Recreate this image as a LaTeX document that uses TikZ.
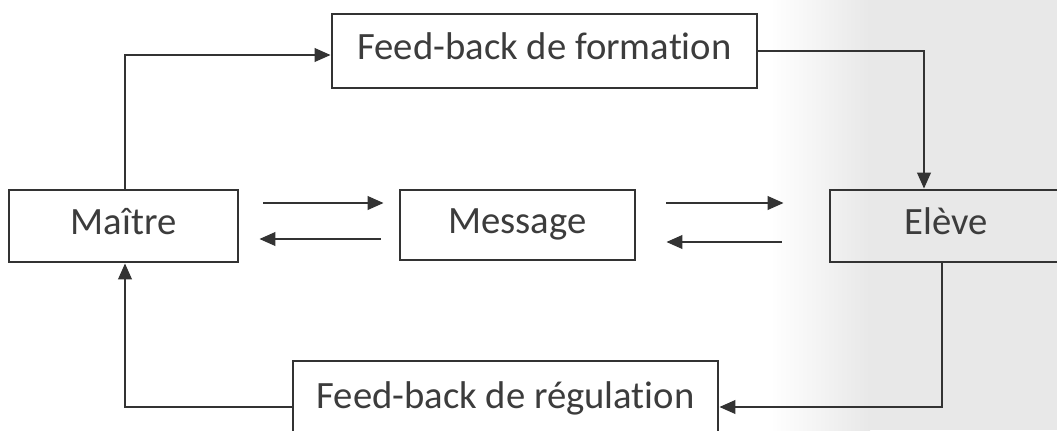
\documentclass[tikz,border=0pt]{standalone}
\usepackage{fontspec}
\setmainfont{Carlito}[Ligatures={NoCommon}]
\usetikzlibrary{arrows.meta,calc}
\definecolor{ink}{HTML}{333333}
\definecolor{txt}{HTML}{3C3C3C}
\definecolor{scan}{HTML}{E8E8E8}
\begin{document}
\begin{tikzpicture}[x=0.75pt,y=-0.75pt,
  box/.style={draw=ink, line width=2pt, fill=none, text=txt, inner sep=0pt,
    text height=20pt, text depth=7pt,
    font=\fontsize{29}{34}\selectfont},
  conn/.style={draw=ink, line width=2pt, -{Triangle[length=12pt,width=10pt]}}]
\useasboundingbox (0,0) rectangle (1057,430);
\clip (0,0) rectangle (1057,430);
\fill[white] (0,0) rectangle (1057,430);
\fill[left color=white, right color=scan] (770,0) rectangle (870,430);
\fill[scan] (870,0) rectangle (1057,430);
\node[box, minimum width=318.75pt, minimum height=55.5pt] (form) at (544.5,51) {Feed-back de formation};
\node[box, minimum width=171.75pt, minimum height=54pt] (maitre) at (123.5,226) {Maître};
\node[box, minimum width=176.25pt, minimum height=52.5pt] (msg) at (517.5,225) {Message};
\node[box, minimum width=174pt, minimum height=54pt] (eleve) at (946,226) {Elève};
\node[box, minimum width=318.75pt, minimum height=58.5pt] (regul) at (505.5,400) {Feed-back de régulation};
% top loop
\draw[conn] ($(maitre.north)+(1.5,0)$) |- ($(form.west)+(0,4)$);
\draw[conn] (form.east) -| ($(eleve.north)+(-22,0)$);
% bottom loop
\draw[conn] ($(eleve.south)+(-4,0)$) |- ($(regul.east)+(0,7)$);
\draw[conn] ($(regul.west)+(0,7)$) -| ($(maitre.south)+(1.5,0)$);
% message arrows
\draw[conn] ($(maitre.east)+(24,-23)$) -- ($(msg.west)+(-15,-22)$);
\draw[conn] ($(msg.west)+(-18,14)$) -- ($(maitre.east)+(20,13)$);
\draw[conn] ($(msg.east)+(30,-22)$) -- ($(eleve.west)+(-45,-23)$);
\draw[conn] ($(eleve.west)+(-47,16)$) -- ($(msg.east)+(30,17)$);
\end{tikzpicture}
\end{document}
